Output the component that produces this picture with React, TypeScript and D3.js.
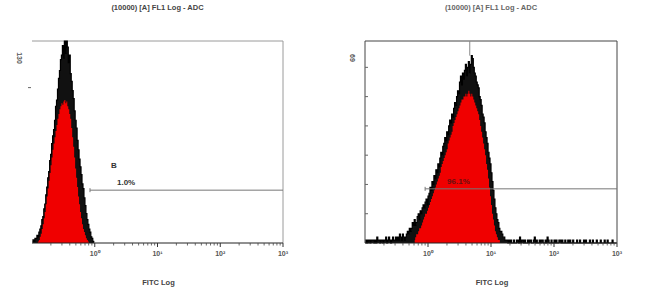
import React from "react";
import * as d3 from "d3";

// ---- data (channel counts, 64 channels per decade, channel 0 = 10^-1) ----
const titles = ["(10000) [A] FL1 Log - ADC", "(10000) [A] FL1 Log - ADC"];
const axisTitle = "FITC Log";
const tickValues = [1, 10, 100, 1000];
const tickLabels = ["10⁰", "10¹", "10²", "10³"];
const yMax = [130, 69];
const yTickStep = [100, 10];

// left histogram: upper envelope (black) and lower envelope (red fill)
const leftStart = 0;
const leftUpper = [
  1, 2, 1, 3, 3, 5, 4, 7, 9, 11,
  15, 17, 22, 25, 31, 36, 42, 46, 53, 57,
  64, 69, 73, 79, 88, 92, 99, 106, 111, 118,
  121, 127, 119, 130, 122, 130, 126, 116, 121, 109,
  104, 98, 93, 85, 79, 74, 66, 60, 54, 49,
  44, 38, 35, 29, 24, 19, 15, 12, 9, 7,
  4, 3, 1, 1,
];
const leftLower = [
  0, 0, 0, 0, 0, 0, 1, 2, 4, 6,
  9, 12, 16, 20, 25, 30, 35, 40, 45, 50,
  55, 60, 64, 68, 72, 76, 80, 83, 86, 88,
  90, 89, 91, 92, 90, 91, 88, 86, 83, 80,
  74, 68, 62, 55, 48, 42, 36, 30, 25, 20,
  16, 12, 9, 7, 5, 3, 2, 1, 0, 0,
  0, 0, 0, 0,
];

// right histogram
const rightStart = 0;
const rightUpper = [
  0, 1, 0, 1, 1, 0, 1, 1, 1, 0,
  1, 0, 2, 1, 1, 0, 1, 1, 0, 1,
  1, 2, 0, 1, 2, 1, 0, 1, 2, 1,
  1, 2, 1, 2, 1, 3, 2, 1, 3, 2,
  1, 2, 3, 4, 3, 5, 4, 5, 7, 6,
  8, 6, 7, 9, 10, 8, 11, 10, 12, 13,
  12, 14, 15, 13, 16, 17, 19, 18, 21, 20,
  23, 22, 25, 24, 27, 26, 29, 31, 30, 33,
  34, 36, 35, 38, 37, 40, 42, 41, 44, 43,
  46, 48, 47, 50, 52, 51, 55, 57, 54, 58,
  56, 59, 61, 57, 60, 62, 58, 61, 64, 63,
  60, 58, 57, 55, 54, 53, 50, 49, 47, 44,
  43, 41, 38, 36, 34, 31, 29, 27, 24, 21,
  18, 15, 12, 10, 8, 7, 5, 4, 4, 3,
  2, 2, 1, 1, 1, 0, 1, 0, 1, 0,
  0, 1, 0, 0, 1, 1, 0, 2, 0, 1,
  1, 0, 1, 0, 0, 1, 0, 1, 1, 0,
  0, 1, 2, 0, 1, 0, 0, 1, 0, 1,
  1, 0, 0, 1, 0, 2, 1, 0, 0, 1,
  0, 0, 1, 0, 1, 0, 0, 1, 1, 0,
  1, 0, 0, 1, 0, 0, 1, 0, 1, 0,
  0, 1, 0, 0, 0, 1, 0, 0, 1, 0,
  0, 0, 1, 0, 1, 0, 0, 0, 1, 0,
  0, 1, 0, 0, 0, 1, 0, 0, 0, 1,
  0, 0, 0, 1, 0, 0, 1, 0, 0, 0,
  0, 1, 0, 0, 0, 0,
];
const rightLowerStart = 50;
const rightLower = [
  1, 2, 3, 3, 4, 5, 5, 6, 7, 8,
  9, 10, 10, 11, 12, 13, 14, 15, 16, 17,
  18, 19, 20, 21, 22, 23, 24, 26, 27, 28,
  29, 30, 31, 32, 34, 35, 36, 37, 38, 40,
  41, 42, 43, 44, 45, 46, 47, 48, 49, 49,
  50, 50, 51, 50, 51, 52, 51, 50, 51, 50,
  49, 48, 47, 46, 45, 44, 42, 40, 38, 36,
  34, 32, 30, 27, 25, 22, 19, 16, 13, 10,
  8, 6, 4, 3, 2, 1, 1, 0, 0, 0,
];

// gates: [from, to], level (counts), label, percentage
const gateRange = [[0.84, 1000], [0.9, 1000]];
const gateLevel = [34, 18.5];
const gateName = ["B", ""];
const gatePct = ["1.0%", "96.1%"];
const cursorValue = [0.33, 4.6];

const W = 650, H = 306;
const frames = [
  { x0: 32, x1: 283, y0: 41, y1: 243 },
  { x0: 365, x1: 617, y0: 41, y1: 243 },
];

const chVal = (c: number) => Math.pow(10, -1 + (c + 0.5) / 64);

function Panel({ i }: { i: number }) {
  const f = frames[i];
  const x = d3.scaleLog().domain([0.1, 1000]).range([f.x0, f.x1]);
  const y = d3.scaleLinear().domain([0, yMax[i]]).range([f.y1, f.y0]);
  const upper = i === 0 ? leftUpper : rightUpper;
  const upStart = i === 0 ? leftStart : rightStart;
  const lower = i === 0 ? leftLower : rightLower;
  const loStart = i === 0 ? leftStart : rightLowerStart;
  const up = upper.map((v, k) => [chVal(upStart + k), v] as [number, number]);
  const lo = lower.map((v, k) => [chVal(loStart + k), v] as [number, number]);
  const area = d3
    .area<[number, number]>()
    .x((d) => x(d[0]))
    .y0(y(0))
    .y1((d) => y(Math.min(d[1], yMax[i])))
    .curve(d3.curveStep);
  const line = d3
    .line<[number, number]>()
    .x((d) => x(d[0]))
    .y((d) => y(Math.min(d[1], yMax[i])))
    .curve(d3.curveStep);
  const frameColor = i === 0 ? "#9a9a9a" : "#444";
  const minors: number[] = [];
  for (let e = -1; e < 3; e++)
    for (let m = 2; m <= 9; m++) minors.push(m * Math.pow(10, e));
  const yTicks = d3.range(yTickStep[i], yMax[i], yTickStep[i]);
  const cx = x(cursorValue[i]);
  const peakIdx = upper.indexOf(d3.max(upper) as number);
  const gx0 = x(gateRange[i][0]);
  const gx1 = x(gateRange[i][1]);
  const gy = y(gateLevel[i]);
  const midX = (f.x0 + f.x1) / 2;
  return (
    <g>
      <text x={midX} y={10} textAnchor="middle" fontSize={7.5} fontWeight="bold"
        fill={i === 0 ? "#444" : "#666"} fontFamily="Liberation Sans, Arial, sans-serif">
        {titles[i]}
      </text>
      {/* frame */}
      <line x1={f.x0} x2={f.x1} y1={f.y0} y2={f.y0} stroke={frameColor} strokeWidth={1} />
      <line x1={f.x1} x2={f.x1} y1={f.y0} y2={f.y1} stroke={frameColor} strokeWidth={1} />
      {i === 1 && <line x1={f.x0} x2={f.x0} y1={f.y0} y2={f.y1} stroke={frameColor} strokeWidth={1} />}
      {/* y ticks */}
      {yTicks.map((t) => (
        <line key={t} x1={i === 0 ? f.x0 - 4 : f.x0} x2={i === 0 ? f.x0 - 1 : f.x0 + 3}
          y1={y(t)} y2={y(t)} stroke="#666" strokeWidth={1} />
      ))}
      <text transform={`translate(${f.x0 - 15},${f.y0 + 17}) rotate(90)`} textAnchor="middle"
        fontSize={7} fontWeight="bold" fill="#555" fontFamily="Liberation Sans, Arial, sans-serif">
        {String(yMax[i])}
      </text>
      {/* cursor line */}
      <line x1={cx} x2={cx} y1={f.y0} y2={y(upper[peakIdx])} stroke="#888" strokeWidth={1} />
      {/* histogram */}
      <path d={area(up) || ""} fill="#111" />
      <path d={line(up) || ""} fill="none" stroke="#000" strokeWidth={1.2} />
      <path d={area(lo) || ""} fill="#f00000" />
      {/* x axis */}
      <line x1={f.x0} x2={f.x1} y1={f.y1} y2={f.y1} stroke="#222" strokeWidth={1} />
      {minors.map((m) => (
        <line key={m} x1={x(m)} x2={x(m)} y1={f.y1} y2={f.y1 + 2.5} stroke="#444" strokeWidth={0.8} />
      ))}
      {tickValues.map((t, k) => (
        <g key={t}>
          <line x1={x(t)} x2={x(t)} y1={f.y1} y2={f.y1 + 4} stroke="#333" strokeWidth={1} />
          <text x={x(t)} y={f.y1 + 13} textAnchor="middle" fontSize={7} fontWeight="bold"
            fill="#555" fontFamily="Liberation Sans, Arial, sans-serif">
            {tickLabels[k]}
          </text>
        </g>
      ))}
      <text x={x(10) + 1} y={285} textAnchor="middle" fontSize={7.5} fontWeight="bold" fill="#444"
        fontFamily="Liberation Sans, Arial, sans-serif">
        {axisTitle}
      </text>
      {/* gate */}
      <line x1={gx0} x2={gx1} y1={gy} y2={gy} stroke="#777" strokeWidth={1} />
      <line x1={gx0} x2={gx0} y1={gy - 2} y2={gy + 2} stroke="#777" strokeWidth={1} />
      {gateName[i] && (
        <text x={gx0 + 21} y={gy - 22} fontSize={8} fontWeight="bold" fill="#333"
          fontFamily="Liberation Sans, Arial, sans-serif">
          {gateName[i]}
        </text>
      )}
      <text x={i === 0 ? gx0 + 27 : gx0 + 22} y={gy - 5} fontSize={8} fontWeight="bold"
        fill={i === 0 ? "#333" : "#6a1010"} fontFamily="Liberation Sans, Arial, sans-serif">
        {gatePct[i]}
      </text>
    </g>
  );
}

export default function App() {
  return (
    <svg width={W} height={H} style={{ position: "absolute", left: 0, top: 0, background: "#fff" }}>
      <rect width={W} height={H} fill="#fff" />
      <Panel i={0} />
      <Panel i={1} />
    </svg>
  );
}
